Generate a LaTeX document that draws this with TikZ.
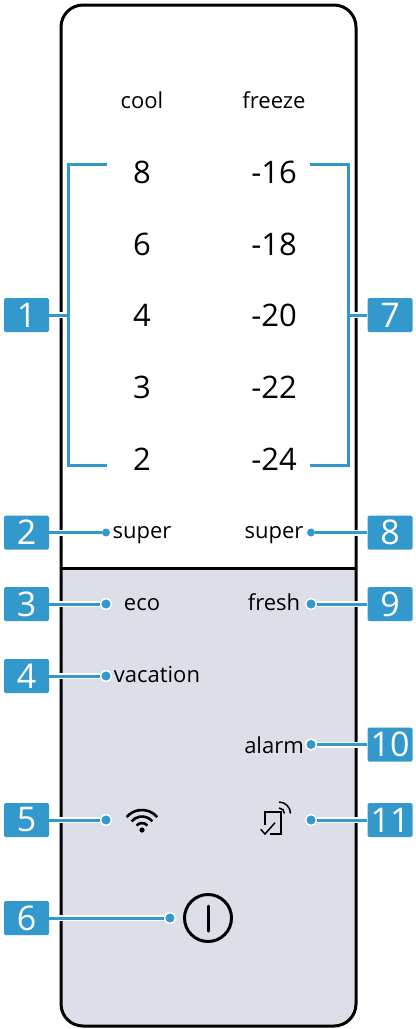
\documentclass[tikz,border=0pt]{standalone}
\usepackage{fontspec}
\setmainfont{Open Sans}
\usetikzlibrary{positioning}
\definecolor{leadc}{HTML}{3399CC}
\definecolor{panelc}{HTML}{DCDFE7}
\newlength{\pxu}
\setlength{\pxu}{0.75pt}
\tikzset{
  badge/.style = {fill=leadc,text=white,rounded corners=1.5\pxu,minimum width=45\pxu,minimum height=34\pxu,inner sep=0pt,font=\fontsize{34\pxu}{34\pxu}\selectfont},
  dotn/.style = {circle,fill=leadc,draw=white,line width=1.5\pxu,minimum size=11\pxu,inner sep=0pt},
  dotw/.style = {circle,fill=leadc,minimum size=8\pxu,inner sep=0pt},
  lead/.style = {leadc,line width=3\pxu},
  leadh/.style = {leadc,line width=3\pxu,preaction={draw=white,line width=6\pxu}},
  smalltxt/.style = {anchor=base,inner sep=0pt,font=\fontsize{22\pxu}{22\pxu}\selectfont},
  numtxt/.style = {anchor=base,inner sep=0pt,font=\fontsize{31\pxu}{31\pxu}\selectfont},
  icon/.style = {black,line width=2.6\pxu},
  iconthin/.style = {black,line width=1.5\pxu}
}
\begin{document}
\begin{tikzpicture}[x=0.75pt,y=-0.75pt]
\useasboundingbox (0,0) rectangle (415,1029);

% panel
\fill[panelc,rounded corners=22\pxu] (61,568) -- (61,1026) -- (356,1026) -- (356,568) -- cycle;
\fill[panelc] (61,568) rectangle (356,600);
\draw[black,line width=3\pxu,rounded corners=22\pxu] (61,5) rectangle (356,1026);
\draw[black,line width=3\pxu] (61,568) -- (356,568);

% headings and numbers
\node[smalltxt] (cool) at (142,108) {cool};
\node[smalltxt] (freeze) at (274,108) {freeze};
\node[numtxt] (c8) at (142,183) {8};
\node[numtxt] (c6) at (142,255) {6};
\node[numtxt] (c4) at (142,326) {4};
\node[numtxt] (c3) at (142,398) {3};
\node[numtxt] (c2) at (142,470) {2};
\node[numtxt] (f16) at (274,183) {-16};
\node[numtxt] (f18) at (274,255) {-18};
\node[numtxt] (f20) at (274,326) {-20};
\node[numtxt] (f22) at (274,398) {-22};
\node[numtxt] (f24) at (274,470) {-24};
\node[smalltxt] (superl) at (142,538) {super};
\node[smalltxt] (superr) at (274,538) {super};
\node[smalltxt] (eco) at (142,610) {eco};
\node[smalltxt] (fresh) at (274,610) {fresh};
\node[smalltxt] (vacation) at (157,682) {vacation};
\node[smalltxt] (alarm) at (274,753) {alarm};

% icons
\fill[black] (142,830) circle (2.6);
\draw[icon] (157.3,817.1) arc[start angle=40,end angle=140,radius=20\pxu];
\draw[icon] (152.3,821.3) arc[start angle=40,end angle=140,radius=13.5\pxu];
\draw[icon] (147.4,825.5) arc[start angle=40,end angle=140,radius=7\pxu];
\node[circle,draw=black,line width=3\pxu,minimum size=47\pxu,inner sep=0pt] (power) at (208,918) {};
\draw[black,line width=3\pxu,line cap=round] (208,906) -- (208,931);
\draw[iconthin] (265,825) -- (265,812) -- (281,812) -- (281,834) -- (270,834);
\draw[iconthin] (260.7,829.3) -- (265,834) -- (275,822.7);
\draw[iconthin] (279,808) arc[start angle=90,end angle=0,radius=5.5\pxu];
\draw[iconthin] (279,802) arc[start angle=90,end angle=0,radius=11.5\pxu];

% lead ends
\node[dotw] (d2) at (106,532.5) {};
\node[dotn] (d3) at (106,604) {};
\node[dotn] (d4) at (106,676) {};
\node[dotn] (d5) at (106,820) {};
\node[dotn] (d6) at (170,918) {};
\node[dotw] (d8) at (311,532.5) {};
\node[dotn] (d9) at (311,604) {};
\node[dotn] (d10) at (311,744.5) {};
\node[dotn] (d11) at (311,820) {};

% brackets
\coordinate (l1a) at (107,164);
\coordinate (l1b) at (68,164);
\coordinate (l1c) at (68,465);
\coordinate (l1d) at (107,465);
\coordinate (l1m) at (68,315);
\coordinate (r7a) at (310,164);
\coordinate (r7b) at (348,164);
\coordinate (r7c) at (348,465);
\coordinate (r7d) at (310,465);
\coordinate (r7m) at (348,315);

\node[badge] (n1) at (26.5,315) {1}
  edge[leadh] (l1m);
\draw[lead] (l1a) -- (l1b) -- (l1c) -- (l1d);

\node[badge] (n2) at (26.5,532.5) {2}
  edge[leadh] (d2);

\node[badge] (n3) at (26.5,604) {3}
  edge[leadh] (d3);

\node[badge] (n4) at (26.5,676) {4}
  edge[leadh] (d4);

\node[badge] (n5) at (26.5,820) {5}
  edge[leadh] (d5);

\node[badge] (n6) at (26.5,918) {6}
  edge[leadh] (d6);

\node[badge] (n7) at (390,315) {7}
  edge[leadh] (r7m);
\draw[lead] (r7a) -- (r7b) -- (r7c) -- (r7d);

\node[badge] (n8) at (390,532.5) {8}
  edge[leadh] (d8);

\node[badge] (n9) at (390,604) {9}
  edge[leadh] (d9);

\node[badge] (n10) at (390,744.5) {10}
  edge[leadh] (d10);

\node[badge] (n11) at (390,820) {11}
  edge[leadh] (d11);
\end{tikzpicture}
\end{document}
